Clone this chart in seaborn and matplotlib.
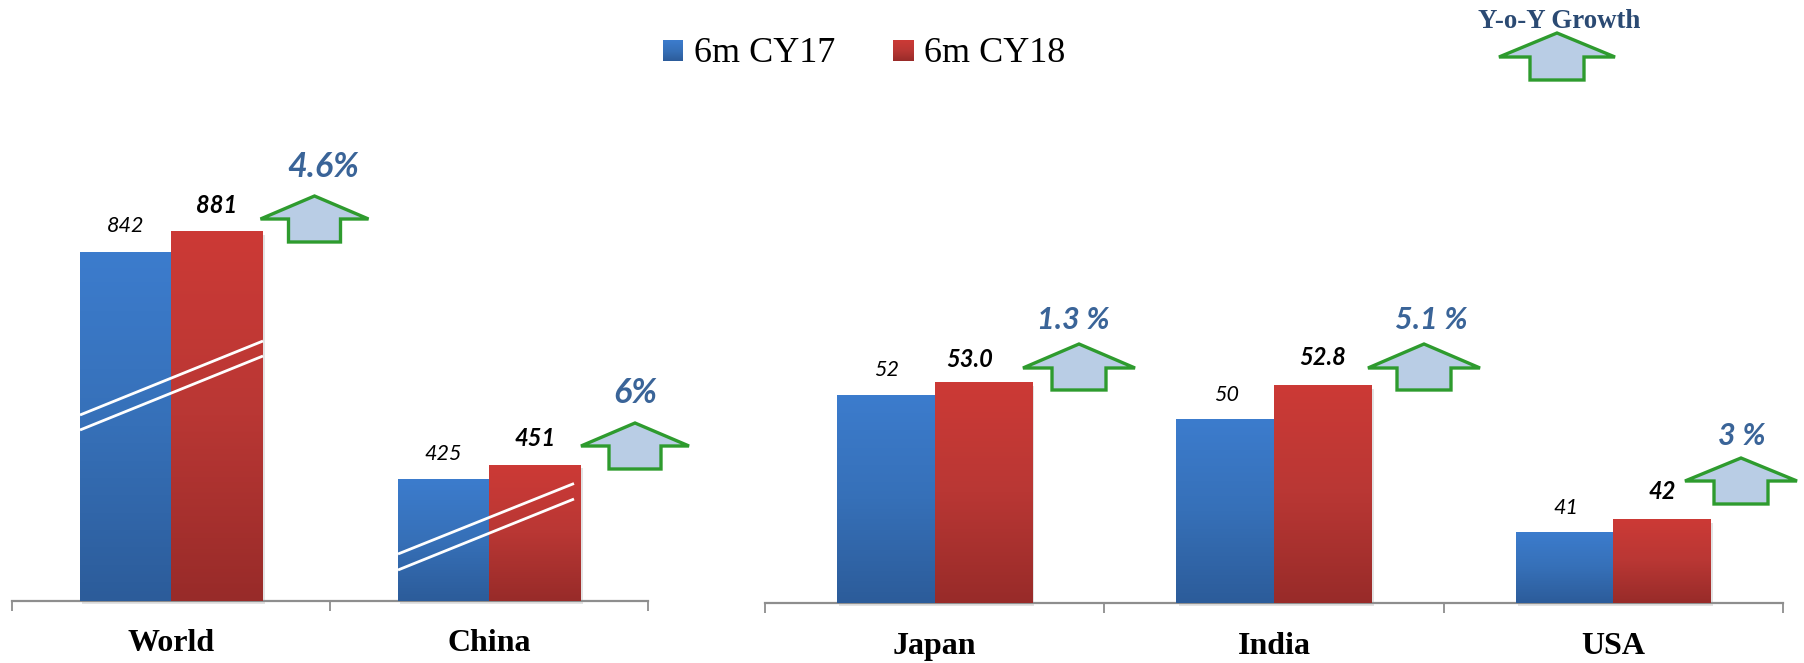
import numpy as np
import pandas as pd
import matplotlib
matplotlib.use("Agg")
import matplotlib.pyplot as plt
import matplotlib.patheffects as pe
from matplotlib.colors import LinearSegmentedColormap
from matplotlib.patches import Polygon, Rectangle
import seaborn as sns

# Half-year figures
periods = ["6m CY17", "6m CY18"]
left_regions = ["World", "China"]
left_cy17 = [842, 425]
left_cy18 = [881, 451]
left_growth = ["4.6%", "6%"]

right_regions = ["Japan", "India", "USA"]
right_cy17 = [52, 50, 41]
right_cy18 = [53.0, 52.8, 42]
right_cy17_labels = ["52", "50", "41"]
right_cy18_labels = ["53.0", "52.8", "42"]
right_growth = ["1.3 %", "5.1 %", "3 %"]

W, H = 1804, 663
BLUE = ["#3C7CCD", "#3670B8", "#2C5C9A"]
RED = ["#CC3A36", "#B93734", "#982B29"]
GREEN = "#2E9B2E"
ARROW_FILL = "#B9CDE5"
GROWTH_TEXT = "#3A6498"
AXIS_GREY = "#8E8E8E"
SERIF = "Liberation Serif"
LABEL = "Lato"

sns.set_theme(style="white")
plt.rcParams["font.family"] = ["Liberation Serif", "DejaVu Sans"]

fig = plt.figure(figsize=(W / 100, H / 100), dpi=100, facecolor="white")


def pixel_axes(x0, x1, y_top, y_base):
    return fig.add_axes([x0 / W, 1 - y_base / H, (x1 - x0) / W, (y_base - y_top) / H])


def gradient(ax, colors, extent, zorder=3, clip=None):
    cmap = LinearSegmentedColormap.from_list("bar", colors)
    img = ax.imshow(np.linspace(0, 1, 128).reshape(-1, 1), cmap=cmap, aspect="auto",
                    extent=extent, origin="upper", zorder=zorder, interpolation="bilinear")
    if clip is not None:
        img.set_clip_path(clip)
    return img


def draw_panel(ax, regions, cy17, cy18, ylim, label_pad):
    table = pd.DataFrame({
        "region": regions * 2,
        "period": [periods[0]] * len(regions) + [periods[1]] * len(regions),
        "value": list(cy17) + list(cy18),
    })
    sns.barplot(data=table, x="region", y="value", hue="period", hue_order=periods,
                palette=[BLUE[1], RED[1]], width=0.575, gap=0, dodge=True,
                saturation=1, legend=False, ax=ax, errorbar=None)
    ax.set_xlim(-0.5, len(regions) - 0.5)
    ax.set_ylim(*ylim)
    xlim, yl = ax.get_xlim(), ax.get_ylim()
    bars = list(ax.patches)
    for i, bar in enumerate(bars):
        colors = BLUE if i < len(regions) else RED
        top = bar.get_height()
        # The value axis is truncated, so each bar starts at the axis floor
        bar.set_y(yl[0])
        bar.set_height(top - yl[0])
        bar.set_linewidth(0)
        bar.set_clip_on(False)
        bar.set_path_effects([
            pe.SimplePatchShadow(offset=(1.5, -2.5), shadow_rgbFace="#777777", alpha=0.2),
            pe.Normal(),
        ])
        gradient(ax, colors, [bar.get_x(), bar.get_x() + bar.get_width(), yl[0], top])
    ax.set_xlim(*xlim)
    ax.set_ylim(*yl)
    sns.despine(ax=ax, left=True, top=True, right=True)
    ax.set_yticks([])
    ax.set_xlabel("")
    ax.set_ylabel("")
    ax.spines["bottom"].set_color(AXIS_GREY)
    ax.spines["bottom"].set_linewidth(1.6)
    ax.patch.set_alpha(0)
    ax.set_xticks(np.arange(len(regions)))
    ax.set_xticklabels(regions, fontsize=23, fontweight="bold", color="black", family=SERIF)
    ax.tick_params(axis="x", which="major", length=0, pad=label_pad)
    ax.set_xticks(np.arange(len(regions) + 1) - 0.5, minor=True)
    ax.tick_params(axis="x", which="minor", length=7.5, width=1.3, color=AXIS_GREY, bottom=True)
    return bars


def value_labels(ax, bars, texts, bold, offsets):
    for bar, text, (dx, dy) in zip(bars, texts, offsets):
        ax.annotate(text, (bar.get_x() + bar.get_width() / 2, bar.get_y() + bar.get_height()),
                    xytext=(dx, dy), textcoords="offset pixels", ha="center", va="center",
                    fontsize=17 if bold else 15.5, style="italic",
                    fontweight="bold" if bold else "normal", family=LABEL, color="black",
                    annotation_clip=False, zorder=6)


left = pixel_axes(12, 648, 100, 601)
right = pixel_axes(765, 1783, 100, 603)

left_bars = draw_panel(left, left_regions, left_cy17, left_cy18, (201, 1122), 20)
right_bars = draw_panel(right, right_regions, right_cy17, right_cy18, (35.3, 75.7), 21)

value_labels(left, left_bars[:2], [str(v) for v in left_cy17], False, [(0, 26), (0, 25)])
value_labels(left, left_bars[2:], [str(v) for v in left_cy18], True, [(0, 26), (0, 27)])
value_labels(right, right_bars[:3], right_cy17_labels, False, [(1, 25), (1, 25), (1, 24)])
value_labels(right, right_bars[3:], right_cy18_labels, True, [(-14, 23), (0, 28), (0, 28)])

# Pixel-space layer for the legend, growth arrows and axis-break strokes
over = fig.add_axes([0, 0, 1, 1], zorder=10)
over.set_xlim(0, W)
over.set_ylim(H, 0)
over.axis("off")
over.patch.set_alpha(0)


def up_arrow(cx, top, shoulder, bottom, half_w, half_stem):
    shape = [(cx, top), (cx + half_w, shoulder), (cx + half_stem, shoulder),
             (cx + half_stem, bottom), (cx - half_stem, bottom),
             (cx - half_stem, shoulder), (cx - half_w, shoulder)]
    over.add_patch(Polygon(shape, closed=True, facecolor=ARROW_FILL, edgecolor=GREEN,
                           linewidth=2.4, joinstyle="miter"))


arrow_layout = [
    (314.5, 196, 219, 242, 54, 26),
    (635, 423, 446, 469, 54, 26),
    (1079, 344, 368, 390, 56, 27),
    (1424, 344, 368, 390, 56, 27),
    (1741, 458, 481, 504, 56, 27),
    (1557, 33, 57, 80, 58, 27),
]
for spec in arrow_layout:
    up_arrow(*spec)

growth_layout = [(323, 167, 24.5), (635, 393, 24.5), (1073, 320, 22), (1431, 320, 22), (1742, 436, 22)]
for text, (x, y, size) in zip(left_growth + right_growth, growth_layout):
    over.text(x, y, text, ha="center", va="center", fontsize=size, style="italic",
              fontweight="bold", family=LABEL, color=GROWTH_TEXT)

over.text(1559, 21, "Y-o-Y Growth", ha="center", va="center", fontsize=19.4,
          fontweight="bold", family=SERIF, color="#2B4A73")

# Legend
for (x0, x1, text_x, colors, name) in [(663, 683, 694, BLUE, periods[0]),
                                       (893, 914, 924, RED, periods[1])]:
    clip = Rectangle((x0, 40), x1 - x0, 21, transform=over.transData, facecolor="none",
                     edgecolor="none")
    over.add_patch(clip)
    gradient(over, colors, [x0, x1, 61, 40], clip=clip)
    over.text(text_x, 54, name, ha="left", va="center", fontsize=26, family=SERIF, color="black")
over.set_xlim(0, W)
over.set_ylim(H, 0)

# Axis-break strokes across the truncated bars
for (x0, y0, x1, y1) in [(80, 415, 263, 341), (80, 430, 263, 356),
                         (398, 554, 574, 483.5), (398, 570, 574, 499)]:
    over.plot([x0, x1], [y0, y1], color="white", linewidth=2.0, solid_capstyle="butt")

fig.savefig("out.png", dpi=100, facecolor="white")
